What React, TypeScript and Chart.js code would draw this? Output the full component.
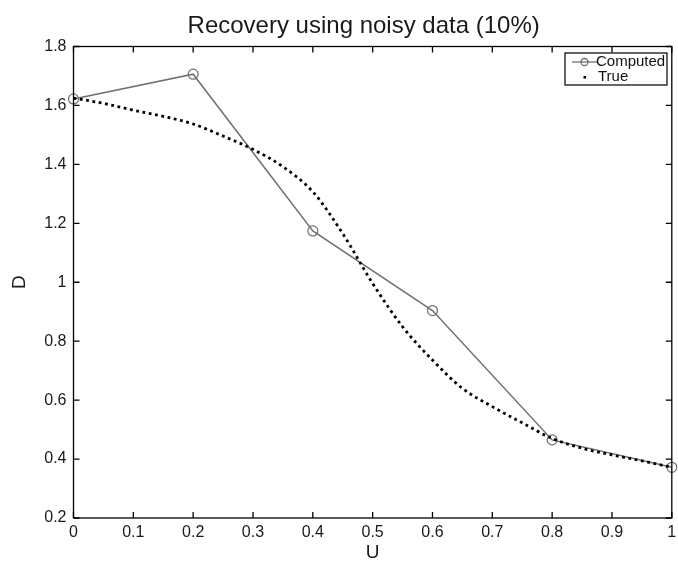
import React, { useEffect, useRef } from "react";
import { Chart, registerables } from "chart.js";

Chart.register(...registerables);

const TITLE = "Recovery using noisy data (10%)";
const X_LABEL = "U";
const Y_LABEL = "D";

const computedU = [0, 0.2, 0.4, 0.6, 0.8, 1.0];
const computedD = [1.622, 1.706, 1.174, 0.904, 0.465, 0.372];

const trueU = [0, 0.05, 0.1, 0.15, 0.2, 0.25, 0.3, 0.35, 0.4, 0.45, 0.5, 0.55, 0.6, 0.65, 0.7, 0.75, 0.8, 0.85, 0.9, 0.95, 1.0];
const trueD = [1.625, 1.607, 1.584, 1.563, 1.537, 1.496, 1.451, 1.392, 1.307, 1.165, 0.996, 0.849, 0.736, 0.64, 0.578, 0.523, 0.47, 0.437, 0.414, 0.394, 0.372];

const xTicks = [0, 0.1, 0.2, 0.3, 0.4, 0.5, 0.6, 0.7, 0.8, 0.9, 1];
const yTicks = [0.2, 0.4, 0.6, 0.8, 1, 1.2, 1.4, 1.6, 1.8];

const legendLabels = ["Computed", "True"];

const FONT = "'Liberation Sans', Arial, Helvetica, sans-serif";
const GRAY = "#707070";

const framePlugin = {
  id: "matlabFrame",
  afterDraw(chart: any) {
    const ctx = chart.ctx;
    const a = chart.chartArea;
    const xs = chart.scales.x;
    const ys = chart.scales.y;
    ctx.save();
    ctx.strokeStyle = "#000";
    ctx.lineWidth = 1.3;
    ctx.strokeRect(a.left, a.top, a.right - a.left, a.bottom - a.top);
    const tl = 6;
    ctx.beginPath();
    xTicks.forEach((v) => {
      const px = xs.getPixelForValue(v);
      ctx.moveTo(px, a.bottom);
      ctx.lineTo(px, a.bottom - tl);
      ctx.moveTo(px, a.top);
      ctx.lineTo(px, a.top + tl);
    });
    yTicks.forEach((v) => {
      const py = ys.getPixelForValue(v);
      ctx.moveTo(a.left, py);
      ctx.lineTo(a.left + tl, py);
      ctx.moveTo(a.right, py);
      ctx.lineTo(a.right - tl, py);
    });
    ctx.stroke();

    // title
    ctx.fillStyle = "#1a1a1a";
    ctx.font = `24px ${FONT}`;
    ctx.textAlign = "center";
    ctx.textBaseline = "alphabetic";
    ctx.fillText(TITLE, (a.left + a.right) / 2 - 9, 33);

    // x label
    ctx.font = `19px ${FONT}`;
    ctx.textBaseline = "middle";
    ctx.fillText(X_LABEL, (a.left + a.right) / 2, 553);

    // y label
    ctx.save();
    ctx.translate(20, (a.top + a.bottom) / 2);
    ctx.rotate(-Math.PI / 2);
    ctx.fillText(Y_LABEL, 0, 0);
    ctx.restore();

    // legend
    const bx = 565, by = 53, bw = 102, bh = 32;
    ctx.fillStyle = "#fff";
    ctx.fillRect(bx, by, bw, bh);
    ctx.strokeStyle = "#000";
    ctx.lineWidth = 1.2;
    ctx.strokeRect(bx, by, bw, bh);
    ctx.strokeStyle = GRAY;
    ctx.lineWidth = 1.3;
    ctx.beginPath();
    ctx.moveTo(572, 62);
    ctx.lineTo(597, 62);
    ctx.stroke();
    ctx.beginPath();
    ctx.arc(584.5, 62, 3.5, 0, Math.PI * 2);
    ctx.stroke();
    ctx.fillStyle = "#000";
    ctx.fillRect(583.5, 76, 2.6, 2.6);
    ctx.fillStyle = "#111";
    ctx.font = `15px ${FONT}`;
    ctx.textAlign = "left";
    ctx.textBaseline = "middle";
    ctx.fillText(legendLabels[0], 596, 62);
    ctx.fillText(legendLabels[1], 598, 77);
    ctx.restore();
  },
};

export default function App() {
  const ref = useRef<HTMLCanvasElement | null>(null);
  useEffect(() => {
    document.body.style.margin = "0";
    const canvas = ref.current;
    if (!canvas) return;
    const chart = new Chart(canvas, {
      type: "line",
      data: {
        datasets: [
          {
            label: legendLabels[1],
            data: trueU.map((u, i) => ({ x: u, y: trueD[i] })),
            borderColor: "#000",
            borderWidth: 2.8,
            borderDash: [2.8, 3.6],
            borderCapStyle: "butt",
            cubicInterpolationMode: "monotone",
            pointRadius: 0,
            fill: false,
            clip: false,
          },
          {
            label: legendLabels[0],
            data: computedU.map((u, i) => ({ x: u, y: computedD[i] })),
            borderColor: GRAY,
            borderWidth: 1.5,
            pointRadius: 5,
            pointBorderColor: GRAY,
            pointBackgroundColor: "rgba(0,0,0,0)",
            pointBorderWidth: 1.2,
            tension: 0,
            fill: false,
            clip: false,
          },
        ],
      },
      options: {
        animation: false,
        responsive: false,
        devicePixelRatio: 1,
        layout: { padding: { top: 46.5, right: 5, left: 0, bottom: 0 } },
        plugins: {
          legend: { display: false },
          title: { display: false },
          tooltip: { enabled: false },
        },
        scales: {
          x: {
            type: "linear",
            min: 0,
            max: 1,
            afterBuildTicks: (s: any) => {
              s.ticks = xTicks.map((v) => ({ value: v }));
            },
            afterFit: (s: any) => {
              s.height = 50;
              s.paddingRight = 0;
              s.paddingLeft = 0;
            },
            grid: { display: false, drawTicks: false },
            border: { display: false },
            ticks: {
              padding: 5,
              color: "#1a1a1a",
              font: { family: FONT, size: 16 },
              maxRotation: 0,
              autoSkip: false,
              callback: (v: any) => String(Number(Number(v).toFixed(1))),
            },
          },
          y: {
            type: "linear",
            min: 0.2,
            max: 1.8,
            afterBuildTicks: (s: any) => {
              s.ticks = yTicks.map((v) => ({ value: v }));
            },
            afterFit: (s: any) => {
              s.width = 73.5;
            },
            grid: { display: false, drawTicks: false },
            border: { display: false },
            ticks: {
              padding: 7,
              color: "#1a1a1a",
              font: { family: FONT, size: 16 },
              autoSkip: false,
              callback: (v: any) => String(Number(Number(v).toFixed(1))),
            },
          },
        },
      },
      plugins: [framePlugin],
    } as any);
    return () => chart.destroy();
  }, []);
  return (
    <div style={{ position: "absolute", left: 0, top: 0, width: 678, height: 568, background: "#fff" }}>
      <canvas ref={ref} width={678} height={568} style={{ width: 678, height: 568, display: "block" }} />
    </div>
  );
}
